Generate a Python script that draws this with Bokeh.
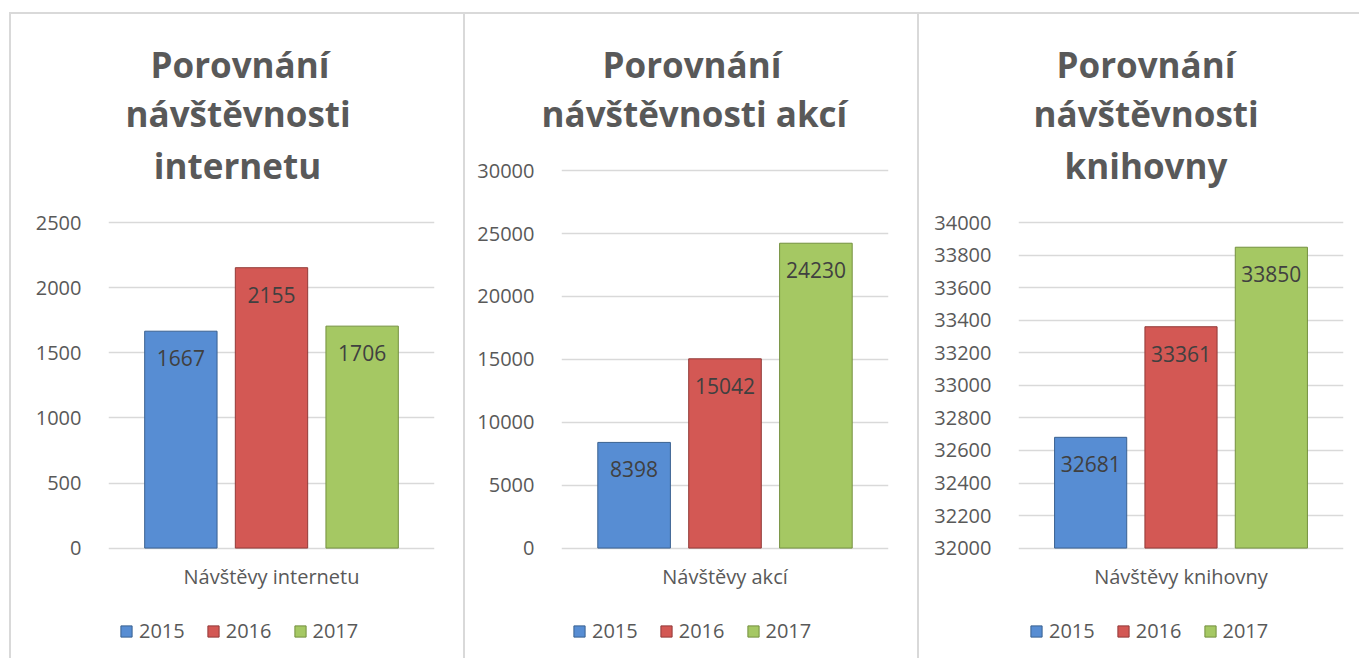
from bokeh.plotting import figure
from bokeh.models import (Range1d, FactorRange, FixedTicker, Label, Title, Legend, LegendItem,
                          ColumnDataSource)
from bokeh.transform import dodge
from bokeh.layouts import row
from bokeh.embed import file_html
from bokeh.resources import INLINE
from bokeh.core.properties import value

# ---- data ----
years = ["2015", "2016", "2017"]
internet = [1667, 2155, 1706]
akce = [8398, 15042, 24230]
knihovna = [32681, 33361, 33850]

categories = ["Návštěvy internetu", "Návštěvy akcí", "Návštěvy knihovny"]
titles = [["Porovnání", "návštěvnosti", "internetu"],
          ["Porovnání", "návštěvnosti akcí"],
          ["Porovnání", "návštěvnosti", "knihovny"]]
y_min = [0, 0, 32000]
y_max = [2500, 30000, 34000]
y_step = [500, 5000, 200]

# ---- styling / layout ----
FILL = ["#578dd3", "#d35854", "#a5c863"]
LINE = ["#3a6190", "#923a38", "#74903f"]
OFFSETS = [-0.278, 0.0, 0.278]
FONT = "Open Sans"
GREY = "#595959"
BORDER = "2px solid #d9d9d9"
CANVAS_TOP = 14          # page y of canvas top
CANVAS_H = 644
FRAME_TOP = 136          # page y of frame top (below two title lines)
FRAME_BOTTOM = CANVAS_TOP + CANVAS_H   # frame runs to the canvas bottom
ZERO_Y = 546             # page y of value axis minimum
THIRD_BASELINE = 165
CATEGORY_TOP = 561


def make_panel(values, cat, title_lines, title_offsets, ymin, ymax, step, fw, data_h, left, right,
               label_dx):
    per_px = (ymax - ymin) / data_h
    y_start = ymin - (FRAME_BOTTOM - ZERO_Y) * per_px
    y_end = ymin + (ZERO_Y - FRAME_TOP) * per_px
    p = figure(frame_width=fw, frame_height=FRAME_BOTTOM - FRAME_TOP, output_backend="svg",
               toolbar_location=None, x_axis_location=None,
               x_range=FactorRange(cat, range_padding=0), y_range=Range1d(y_start, y_end),
               min_border_left=left, min_border_right=right,
               min_border_top=FRAME_TOP - CANVAS_TOP, min_border_bottom=0,
               styles={"border-top": BORDER, "border-left": BORDER})
    p.title.visible = False
    p.outline_line_color = None
    p.xgrid.grid_line_color = None
    p.ygrid.grid_line_color = "#d9d9d9"
    p.ygrid.grid_line_width = 1.5
    p.yaxis.ticker = FixedTicker(ticks=list(range(ymin, ymax + 1, step)))
    ax = p.yaxis[0]
    ax.axis_line_color = None
    ax.major_tick_line_color = None
    ax.minor_tick_line_color = None
    ax.major_label_text_font = FONT
    ax.major_label_text_font_size = "20px"
    ax.major_label_text_color = GREY
    ax.major_label_standoff = 21

    items = []
    for i, (yr, v) in enumerate(zip(years, values)):
        src = ColumnDataSource(dict(x=[cat], top=[v], bottom=[ymin], label=[str(v)]))
        r = p.vbar(x=dodge("x", OFFSETS[i], range=p.x_range), top="top", bottom="bottom",
                   width=0.222, source=src, fill_color=FILL[i], line_color=LINE[i], line_width=1)
        p.text(x=dodge("x", OFFSETS[i], range=p.x_range), y="top", text="label", source=src,
               y_offset=27, text_align="center", text_baseline="middle",
               text_font=value(FONT), text_font_size=value("21px"), text_color="#404040")
        items.append(LegendItem(label=yr, renderers=[r]))

    # category name under the bars
    p.add_layout(Label(x=0.5, y=ymin - (CATEGORY_TOP - ZERO_Y) * per_px, text=cat,
                       text_align="center", text_baseline="top", text_font=FONT,
                       text_font_size="20px", text_color=GREY))

    legend = Legend(items=items, orientation="horizontal", location=(11, 16),
                    label_text_font=FONT, label_text_font_size="20px", label_text_color=GREY,
                    glyph_width=14, glyph_height=14, label_standoff=6, spacing=21,
                    border_line_color=None, background_fill_alpha=0, padding=5, margin=0)
    p.add_layout(legend, "center")

    # first two title lines above the frame (added bottom line first)
    for t, off in reversed(list(zip(title_lines[:2], title_offsets))):
        p.add_layout(Title(text=t, align="left", offset=off, standoff=0, text_font=FONT,
                           text_font_size="35px", text_font_style="bold", text_color=GREY),
                     "above")
    # third title line inside the frame
    if len(title_lines) > 2:
        y = ymin + (ZERO_Y - THIRD_BASELINE) * per_px
        p.add_layout(Label(x=0.5, y=y, x_offset=label_dx, text=title_lines[2], text_align="center",
                           text_baseline="alphabetic", text_font=FONT, text_font_size="35px",
                           text_font_style="bold", text_color=GREY))
    return p


p1 = make_panel(internet, categories[0], titles[0], [42, 17], y_min[0], y_max[0], y_step[0],
                324, 324, 97, 31, -34)
p2 = make_panel(akce, categories[1], titles[1], [41, -20], y_min[1], y_max[1], y_step[1],
                325, 376, 96, 31, -33)
p3 = make_panel(knihovna, categories[2], titles[2], [38, 15], y_min[2], y_max[2], y_step[2],
                323, 324, 99, 18, -35)

layout = row(p1, p2, p3, spacing=0, margin=(12, 0, 0, 9))
open("out.html", "w").write(file_html(layout, INLINE))
